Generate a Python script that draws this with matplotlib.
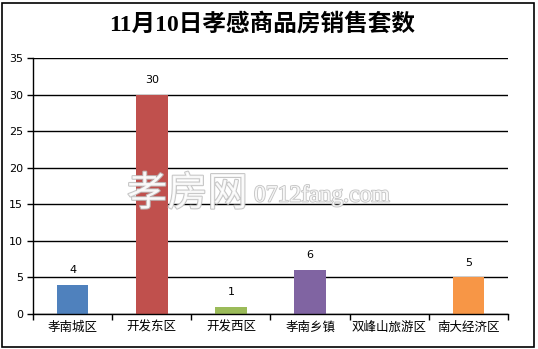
import matplotlib
matplotlib.use("Agg")
import matplotlib.pyplot as plt
import matplotlib.patheffects as pe
from matplotlib.patches import Rectangle
import numpy as np

plt.rcParams['font.family'] = ['Noto Sans CJK SC', 'DejaVu Sans']

title = "11月10日孝感商品房销售套数"
categories = ["孝南城区", "开发东区", "开发西区", "孝南乡镇", "双峰山旅游区", "南大经济区"]
values = [4, 30, 1, 6, 0, 5]
colors = ["#4f81bd", "#c0504d", "#9bbb59", "#8064a2", "#4bacc6", "#f79646"]
yticks = [0, 5, 10, 15, 20, 25, 30, 35]

W, H = 538, 349
fig = plt.figure(figsize=(W / 100, H / 100), dpi=100)
fig.patch.set_facecolor("white")

# outer border
fig.add_artist(Rectangle((1.5 / W, 2.5 / H), (534 - 1.5) / W, (346.5 - 2.5) / H,
                         transform=fig.transFigure, fill=False, edgecolor="black",
                         linewidth=1.2))

ax = fig.add_axes([33 / W, 1 - 314 / H, (508 - 33) / W, (314 - 58) / H])
x = np.arange(len(categories))
ax.bar(x, values, width=0.4, color=colors, zorder=3)

ax.set_xlim(-0.5, len(categories) - 0.5)
ax.set_ylim(0, 35)
ax.set_yticks(yticks)
ax.set_yticklabels([str(v) for v in yticks], fontsize=8, family=['DejaVu Sans'])
ax.yaxis.grid(True, color="black", linewidth=1.0, zorder=0)
ax.set_axisbelow(True)

# category boundaries as major ticks, labels as minor ticks
ax.set_xticks(np.arange(-0.5, len(categories), 1.0))
ax.set_xticklabels([])
ax.set_xticks(x, minor=True)
ax.set_xticklabels(categories, minor=True, fontsize=9)
ax.tick_params(axis="x", which="major", direction="out", length=4, width=1, color="black")
ax.tick_params(axis="x", which="minor", length=0, pad=5)
ax.tick_params(axis="y", direction="out", length=4, width=1, pad=3)

for s in ["top", "right"]:
    ax.spines[s].set_visible(False)
for s in ["left", "bottom"]:
    ax.spines[s].set_color("black")
    ax.spines[s].set_linewidth(1.0)
    ax.spines[s].set_zorder(4)

for xi, v in zip(x, values):
    if v > 0:
        ax.annotate(str(v), (xi, v), xytext=(0, 7), textcoords="offset points",
                    ha="center", va="bottom", fontsize=8, family=['DejaVu Sans'])

fig.text(262 / W, 1 - 24 / H, title, ha="center", va="center", fontsize=17,
         fontweight="bold", family=['Liberation Serif', 'Noto Sans CJK SC'])

# watermark
t1 = fig.text(127 / W, 1 - 194 / H, "孝房网", ha="left", va="center", fontsize=29,
              color="white", alpha=0.85, family=['Noto Sans CJK SC'])
t1.set_path_effects([pe.Stroke(linewidth=1.5, foreground="#bcbcbc"), pe.Normal()])
t2 = fig.text(254 / W, 1 - 196 / H, "0712fang.com", ha="left", va="center", fontsize=17,
              color="white", alpha=0.85, family=['Liberation Serif'])
t2.set_path_effects([pe.Stroke(linewidth=1.3, foreground="#bcbcbc"), pe.Normal()])

fig.savefig("out.png", dpi=100, facecolor="white")
